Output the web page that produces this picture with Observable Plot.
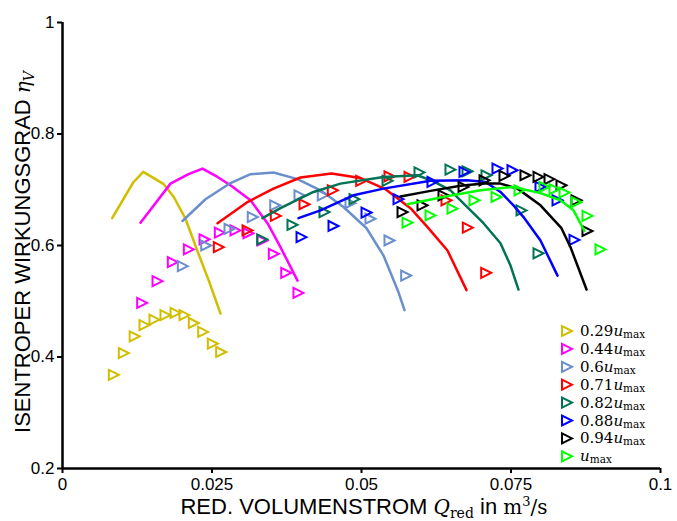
<!DOCTYPE html>
<html>
<head>
<meta charset="utf-8">
<script src="https://cdn.jsdelivr.net/npm/d3@7"></script>
<script src="https://cdn.jsdelivr.net/npm/@observablehq/plot@0.6"></script>
<style>
  body { margin: 0; background: #fff; }
  #chart { position: relative; width: 677px; height: 521px; }
</style>
</head>
<body>
<div id="chart"></div>
<script>
// Relative speed of each characteristic (fraction of u_max); "" means u_max itself
const speedLabels = ["0.29", "0.44", "0.6", "0.71", "0.82", "0.88", "0.94", ""];
const seriesColors = ["#d2be00", "#ff00ff", "#6a8fcc", "#ff0000", "#007355", "#0000ff", "#000000", "#00ff00"];

// Measured points: [reduced volume flow Q_red in m^3/s, isentropic efficiency]
const meas029 = [[0.00858,0.368],[0.01025,0.407],[0.01207,0.437],[0.01371,0.457],[0.01538,0.467],[0.01722,0.475],[0.0189,0.479],[0.0204,0.475],[0.02196,0.461],[0.02353,0.445],[0.02514,0.424],[0.02653,0.409]];
const meas044 = [[0.01332,0.497],[0.01589,0.536],[0.01845,0.570],[0.02113,0.593],[0.02375,0.611],[0.02631,0.623],[0.02893,0.627],[0.0311,0.622],[0.03344,0.609],[0.03534,0.585],[0.03741,0.551],[0.03946,0.515]];
const meas060 = [[0.02012,0.563],[0.02403,0.600],[0.02793,0.630],[0.03182,0.651],[0.03557,0.672],[0.03963,0.690],[0.04353,0.690],[0.04816,0.676],[0.0515,0.648],[0.05468,0.609],[0.05747,0.546]];
const meas071 = [[0.02614,0.597],[0.03094,0.627],[0.03567,0.653],[0.04047,0.674],[0.0452,0.699],[0.04995,0.716],[0.05468,0.724],[0.05803,0.723],[0.06421,0.681],[0.06778,0.632],[0.07085,0.551]];
const meas082 = [[0.03339,0.611],[0.03846,0.637],[0.04381,0.660],[0.04883,0.683],[0.05435,0.716],[0.0597,0.731],[0.06488,0.736],[0.06773,0.733],[0.0709,0.726],[0.07676,0.663],[0.0796,0.586]];
const meas088 = [[0.03997,0.615],[0.04532,0.635],[0.05084,0.659],[0.05619,0.683],[0.06187,0.714],[0.06722,0.732],[0.07274,0.738],[0.07525,0.735],[0.07993,0.705],[0.08278,0.681],[0.08562,0.610]];
const meas094 = [[0.05686,0.660],[0.0602,0.672],[0.06371,0.690],[0.06706,0.705],[0.07057,0.717],[0.07391,0.725],[0.07742,0.726],[0.0796,0.723],[0.08144,0.719],[0.08344,0.708],[0.08595,0.681],[0.08779,0.626]];
const meas100 = [[0.05769,0.641],[0.06154,0.654],[0.06522,0.666],[0.0689,0.681],[0.07258,0.687],[0.07642,0.699],[0.0806,0.705],[0.08227,0.701],[0.08395,0.695],[0.08595,0.678],[0.08779,0.653],[0.08997,0.593]];

// Model characteristics: [Q_red, efficiency]
const model029 = [[0.00831,0.649],[0.01182,0.713],[0.0135,0.732],[0.01694,0.710],[0.01861,0.687],[0.02057,0.648],[0.02253,0.591],[0.02446,0.537],[0.02642,0.478]];
const model044 = [[0.01304,0.641],[0.01806,0.711],[0.02107,0.728],[0.02341,0.738],[0.02592,0.723],[0.02809,0.708],[0.03144,0.681],[0.03428,0.640],[0.03645,0.597],[0.0393,0.537]];
const model060 = [[0.02007,0.644],[0.02391,0.683],[0.02809,0.712],[0.03144,0.728],[0.03528,0.731],[0.0393,0.719],[0.04314,0.699],[0.04699,0.669],[0.05084,0.631],[0.05368,0.582],[0.05619,0.516],[0.05719,0.484]];
const model071 = [[0.02592,0.640],[0.03094,0.678],[0.03528,0.702],[0.0398,0.722],[0.04498,0.729],[0.04983,0.721],[0.05401,0.701],[0.05819,0.667],[0.06104,0.633],[0.06438,0.591],[0.06756,0.520]];
const model082 = [[0.03344,0.649],[0.03645,0.667],[0.04197,0.696],[0.04649,0.711],[0.05368,0.723],[0.05936,0.726],[0.06204,0.715],[0.06488,0.699],[0.06739,0.672],[0.0704,0.640],[0.07324,0.604],[0.07492,0.564],[0.07625,0.521]];
const model088 = [[0.03946,0.649],[0.04314,0.663],[0.04866,0.690],[0.05368,0.702],[0.06154,0.716],[0.06773,0.717],[0.07074,0.714],[0.07324,0.696],[0.07542,0.672],[0.07709,0.651],[0.07993,0.609],[0.08278,0.546]];
const model094 = [[0.05652,0.688],[0.06154,0.698],[0.06656,0.707],[0.0704,0.711],[0.07324,0.711],[0.07609,0.702],[0.07993,0.672],[0.08344,0.631],[0.08495,0.597],[0.08763,0.521]];
const model100 = [[0.05769,0.674],[0.06405,0.688],[0.0699,0.699],[0.07542,0.705],[0.07993,0.694],[0.08328,0.681],[0.08545,0.663],[0.08729,0.626]];

const measured = [meas029, meas044, meas060, meas071, meas082, meas088, meas094, meas100];
const models = [model029, model044, model060, model071, model082, model088, model094, model100];

const xTicks = [0, 0.025, 0.05, 0.075, 0.1];
const yTicks = [0.2, 0.4, 0.6, 0.8, 1];

// Hollow right-pointing triangle marker
const triangleRight = {
  draw(context, size) {
    const s = Math.sqrt(size / Math.PI);
    context.moveTo(s, 0);
    context.lineTo(-s, s);
    context.lineTo(-s, -s);
    context.closePath();
  }
};

const marks = [];
measured.forEach((pts, i) => {
  marks.push(Plot.line(models[i], {x: d => d[0], y: d => d[1], stroke: seriesColors[i], strokeWidth: 2.5}));
  marks.push(Plot.dot(pts, {x: d => d[0], y: d => d[1], symbol: triangleRight, r: 5, stroke: seriesColors[i], strokeWidth: 2, fill: "none", strokeLinejoin: "miter"}));
});

const chart = Plot.plot({
  width: 677,
  height: 521,
  marginLeft: 62,
  marginRight: 17,
  marginTop: 22,
  marginBottom: 53,
  style: {fontFamily: "'Liberation Sans', Arial, sans-serif", fontSize: "17px", color: "black", background: "white"},
  x: {domain: [0, 0.1]},
  y: {domain: [0.2, 1]},
  marks: [
    Plot.axisX(xTicks, {tickSize: 5, tickPadding: 4, strokeWidth: 2, tickFormat: d => String(d), label: null}),
    Plot.axisY(yTicks, {tickSize: 5, tickPadding: 3, strokeWidth: 2, tickFormat: d => String(d), label: null}),
    ...marks,
    Plot.ruleX([0], {strokeWidth: 2.5}),
    Plot.ruleY([0.2], {strokeWidth: 2.5})
  ]
});
document.getElementById("chart").appendChild(chart);

const svg = d3.select(chart);
const sans = "'Liberation Sans', Arial, sans-serif";
const serif = "'DejaVu Serif', 'Liberation Serif', serif";

// Y axis title
const yTitle = svg.append("text")
  .attr("transform", "translate(30,252) rotate(-90)")
  .attr("text-anchor", "middle")
  .attr("fill", "black")
  .style("font-family", sans)
  .style("font-size", "22px");
yTitle.append("tspan").text("ISENTROPER WIRKUNGSGRAD ");
yTitle.append("tspan").style("font-family", serif).style("font-style", "italic").style("font-size", "20px").text("η");
yTitle.append("tspan").attr("dy", 4).style("font-family", serif).style("font-style", "italic").style("font-size", "14px").text("V");

// X axis title
const xTitle = svg.append("text")
  .attr("x", 364)
  .attr("y", 514)
  .attr("text-anchor", "middle")
  .attr("fill", "black")
  .style("font-family", sans)
  .style("font-size", "22px");
xTitle.append("tspan").text("RED. VOLUMENSTROM ");
xTitle.append("tspan").style("font-family", serif).style("font-style", "italic").style("font-size", "20px").text("Q");
xTitle.append("tspan").attr("dy", 4).style("font-family", serif).style("font-size", "14px").text("red");
xTitle.append("tspan").attr("dy", -4).text(" in ");
xTitle.append("tspan").style("font-family", serif).style("font-size", "20px").text("m");
xTitle.append("tspan").attr("dy", -8).style("font-family", serif).style("font-size", "13px").text("3");
xTitle.append("tspan").attr("dy", 8).style("font-family", serif).style("font-size", "20px").text("/s");

// Legend
const legend = svg.append("g").attr("transform", "translate(567,331)");
const sym = d3.symbol(triangleRight, Math.PI * 25);
speedLabels.forEach((lab, i) => {
  const row = legend.append("g").attr("transform", `translate(0,${i * 17.9})`);
  row.append("path").attr("d", sym()).attr("fill", "none")
    .attr("stroke", seriesColors[i]).attr("stroke-width", 2).attr("stroke-linejoin", "miter");
  const t = row.append("text").attr("x", 13).attr("y", 5).attr("fill", "black")
    .attr("text-anchor", "start")
    .style("font-family", serif).style("font-size", "15px");
  if (lab) t.append("tspan").text(lab);
  t.append("tspan").style("font-style", "italic").text("u");
  t.append("tspan").attr("dy", 2).style("font-size", "10.5px").text("max");
});
</script>
</body>
</html>
